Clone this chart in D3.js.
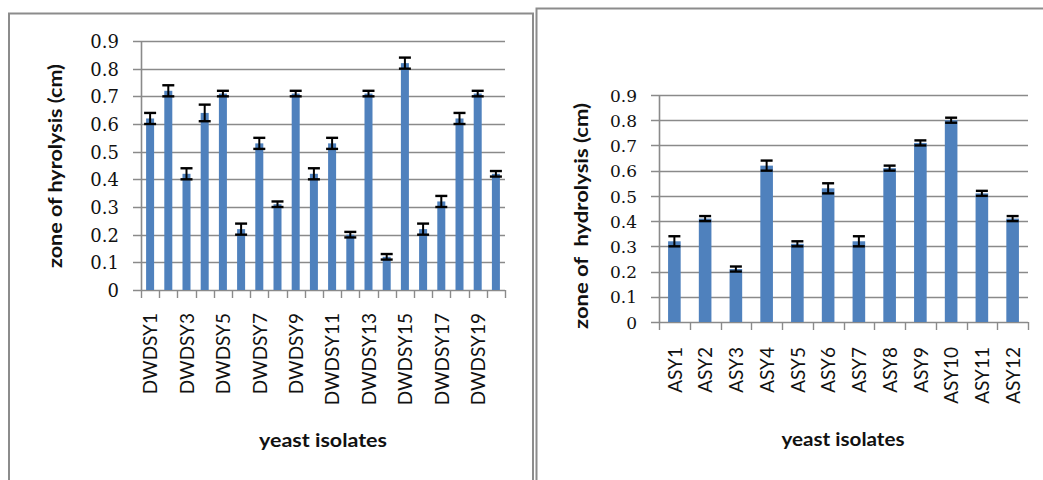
<!DOCTYPE html>
<html>
<head>
<meta charset="utf-8">
<script src="https://cdn.jsdelivr.net/npm/d3@7"></script>
<style>
  html, body { margin: 0; padding: 0; background: #fff; }
  svg { display: block; }
</style>
</head>
<body>
<svg id="chart" width="1043" height="480"></svg>
<script>
// Zone of hydrolysis for the DWDSY isolates (left panel)
const dwdsyIsolates = ["DWDSY1","DWDSY2","DWDSY3","DWDSY4","DWDSY5","DWDSY6","DWDSY7","DWDSY8","DWDSY9","DWDSY10",
                       "DWDSY11","DWDSY12","DWDSY13","DWDSY14","DWDSY15","DWDSY16","DWDSY17","DWDSY18","DWDSY19","DWDSY20"];
const dwdsyZone  = [0.62,0.72,0.42,0.64,0.71,0.22,0.53,0.31,0.71,0.42,0.53,0.20,0.71,0.12,0.82,0.22,0.32,0.62,0.71,0.42];
const dwdsyError = [0.02,0.02,0.02,0.03,0.01,0.02,0.02,0.01,0.01,0.02,0.02,0.01,0.01,0.01,0.02,0.02,0.02,0.02,0.01,0.01];

// Zone of hydrolysis for the ASY isolates (right panel)
const asyIsolates = ["ASY1","ASY2","ASY3","ASY4","ASY5","ASY6","ASY7","ASY8","ASY9","ASY10","ASY11","ASY12"];
const asyZone  = [0.32,0.41,0.21,0.62,0.31,0.53,0.32,0.61,0.71,0.80,0.51,0.41];
const asyError = [0.02,0.01,0.01,0.02,0.01,0.02,0.02,0.01,0.01,0.01,0.01,0.01];

const yTickValues = [0,0.1,0.2,0.3,0.4,0.5,0.6,0.7,0.8,0.9];
const xTitle = "yeast isolates";
const leftYTitle = "zone of hyrolysis (cm)";
const rightYTitle = "zone of  hydrolysis (cm)";

const svg = d3.select("#chart");
svg.append("rect").attr("width", 1043).attr("height", 480).attr("fill", "#fff");

const BAR = "#4f81bd";
const GRID = "#8a8a8a";

// outer chart frames
svg.append("rect").attr("x", 9).attr("y", 13.5).attr("width", 524).attr("height", 520)
  .attr("fill", "none").attr("stroke", "#8c8c8c").attr("stroke-width", 2);
svg.append("rect").attr("x", 536.5).attr("y", 8.5).attr("width", 540).attr("height", 520)
  .attr("fill", "none").attr("stroke", "#8c8c8c").attr("stroke-width", 2);

function panel(opt) {
  const { cats, vals, errs, left, right, top, bottom, pad, tickFont, labelEvery,
          labelTop, yTitle, yTitleX, yTitleY, yTitleLen, xTitleX, xTitleY, xTitleLen } = opt;

  const x = d3.scaleBand().domain(cats).range([left, right]).paddingInner(pad).paddingOuter(pad / 2);
  const y = d3.scaleLinear().domain([0, 0.9]).range([bottom, top]);
  const g = svg.append("g");

  // horizontal gridlines with outward tick stubs
  g.selectAll("line.grid").data(yTickValues).join("line")
    .attr("x1", left - 8).attr("x2", right)
    .attr("y1", d => Math.round(y(d)) + 0.5).attr("y2", d => Math.round(y(d)) + 0.5)
    .attr("stroke", GRID).attr("stroke-width", 1.6);

  // y axis labels
  const yAxis = d3.axisLeft(y).tickValues(yTickValues).tickSize(0).tickPadding(0)
    .tickFormat(d => d === 0 ? "0" : d3.format(".1f")(d));
  const ya = g.append("g").attr("transform", `translate(${left - 22},0)`).call(yAxis);
  ya.select(".domain").remove();
  ya.selectAll("text").attr("font-family", "DejaVu Serif").attr("font-size", tickFont)
    .attr("fill", "#111").attr("dy", "0.36em");

  // vertical axis line
  g.append("line").attr("x1", left + 0.5).attr("x2", left + 0.5).attr("y1", top).attr("y2", bottom)
    .attr("stroke", GRID).attr("stroke-width", 1.6);

  // category tick marks at band boundaries
  const step = x.step();
  const bounds = d3.range(cats.length + 1).map(i => left + i * step);
  g.selectAll("line.xt").data(bounds).join("line")
    .attr("x1", d => Math.round(d) + 0.5).attr("x2", d => Math.round(d) + 0.5)
    .attr("y1", bottom).attr("y2", bottom + 8)
    .attr("stroke", GRID).attr("stroke-width", 1.4);

  // bars
  g.selectAll("rect.bar").data(cats).join("rect")
    .attr("x", d => x(d)).attr("width", x.bandwidth())
    .attr("y", (d, i) => y(vals[i])).attr("height", (d, i) => y(0) - y(vals[i]))
    .attr("fill", BAR);

  // error bars
  const eb = g.selectAll("g.err").data(cats).join("g")
    .attr("transform", d => `translate(${x(d) + x.bandwidth() / 2},0)`);
  eb.append("line").attr("y1", (d, i) => y(vals[i] - errs[i])).attr("y2", (d, i) => y(vals[i] + errs[i]))
    .attr("stroke", "#000").attr("stroke-width", 2);
  eb.append("line").attr("x1", -6).attr("x2", 6)
    .attr("y1", (d, i) => y(vals[i] + errs[i])).attr("y2", (d, i) => y(vals[i] + errs[i]))
    .attr("stroke", "#000").attr("stroke-width", 2.4);
  eb.append("line").attr("x1", -6).attr("x2", 6)
    .attr("y1", (d, i) => y(vals[i] - errs[i])).attr("y2", (d, i) => y(vals[i] - errs[i]))
    .attr("stroke", "#000").attr("stroke-width", 2.4);

  // rotated category labels
  g.selectAll("text.cat").data(cats.filter((d, i) => i % labelEvery === 0)).join("text")
    .attr("transform", d => `translate(${x(d) + x.bandwidth() / 2},${labelTop}) rotate(-90)`)
    .attr("text-anchor", "end").attr("dy", "0.38em")
    .attr("font-family", "Lato").attr("font-size", 19).attr("fill", "#111")
    .text(d => d);

  // axis titles
  g.append("text").attr("x", xTitleX).attr("y", xTitleY).attr("text-anchor", "middle")
    .attr("font-family", "Lato").attr("font-weight", "bold").attr("font-size", 19).attr("fill", "#111")
    .attr("textLength", xTitleLen).attr("lengthAdjust", "spacingAndGlyphs")
    .text(xTitle);
  g.append("text").attr("transform", `translate(${yTitleX},${yTitleY}) rotate(-90)`)
    .attr("text-anchor", "middle").attr("xml:space", "preserve")
    .attr("font-family", "Lato").attr("font-weight", "bold").attr("font-size", 19).attr("fill", "#111")
    .attr("textLength", yTitleLen).attr("lengthAdjust", "spacingAndGlyphs")
    .text(yTitle);
}

panel({
  cats: dwdsyIsolates, vals: dwdsyZone, errs: dwdsyError,
  left: 141, right: 505, top: 41, bottom: 290, pad: 0.56, tickFont: 18, labelEvery: 2,
  labelTop: 313, yTitle: leftYTitle, yTitleX: 62, yTitleY: 166, yTitleLen: 204,
  xTitleX: 323, xTitleY: 447, xTitleLen: 128
});

panel({
  cats: asyIsolates, vals: asyZone, errs: asyError,
  left: 659, right: 1028, top: 95, bottom: 322, pad: 0.59, tickFont: 17, labelEvery: 1,
  labelTop: 347, yTitle: rightYTitle, yTitleX: 588, yTitleY: 216, yTitleLen: 226,
  xTitleX: 843, xTitleY: 446, xTitleLen: 123
});
</script>
</body>
</html>
